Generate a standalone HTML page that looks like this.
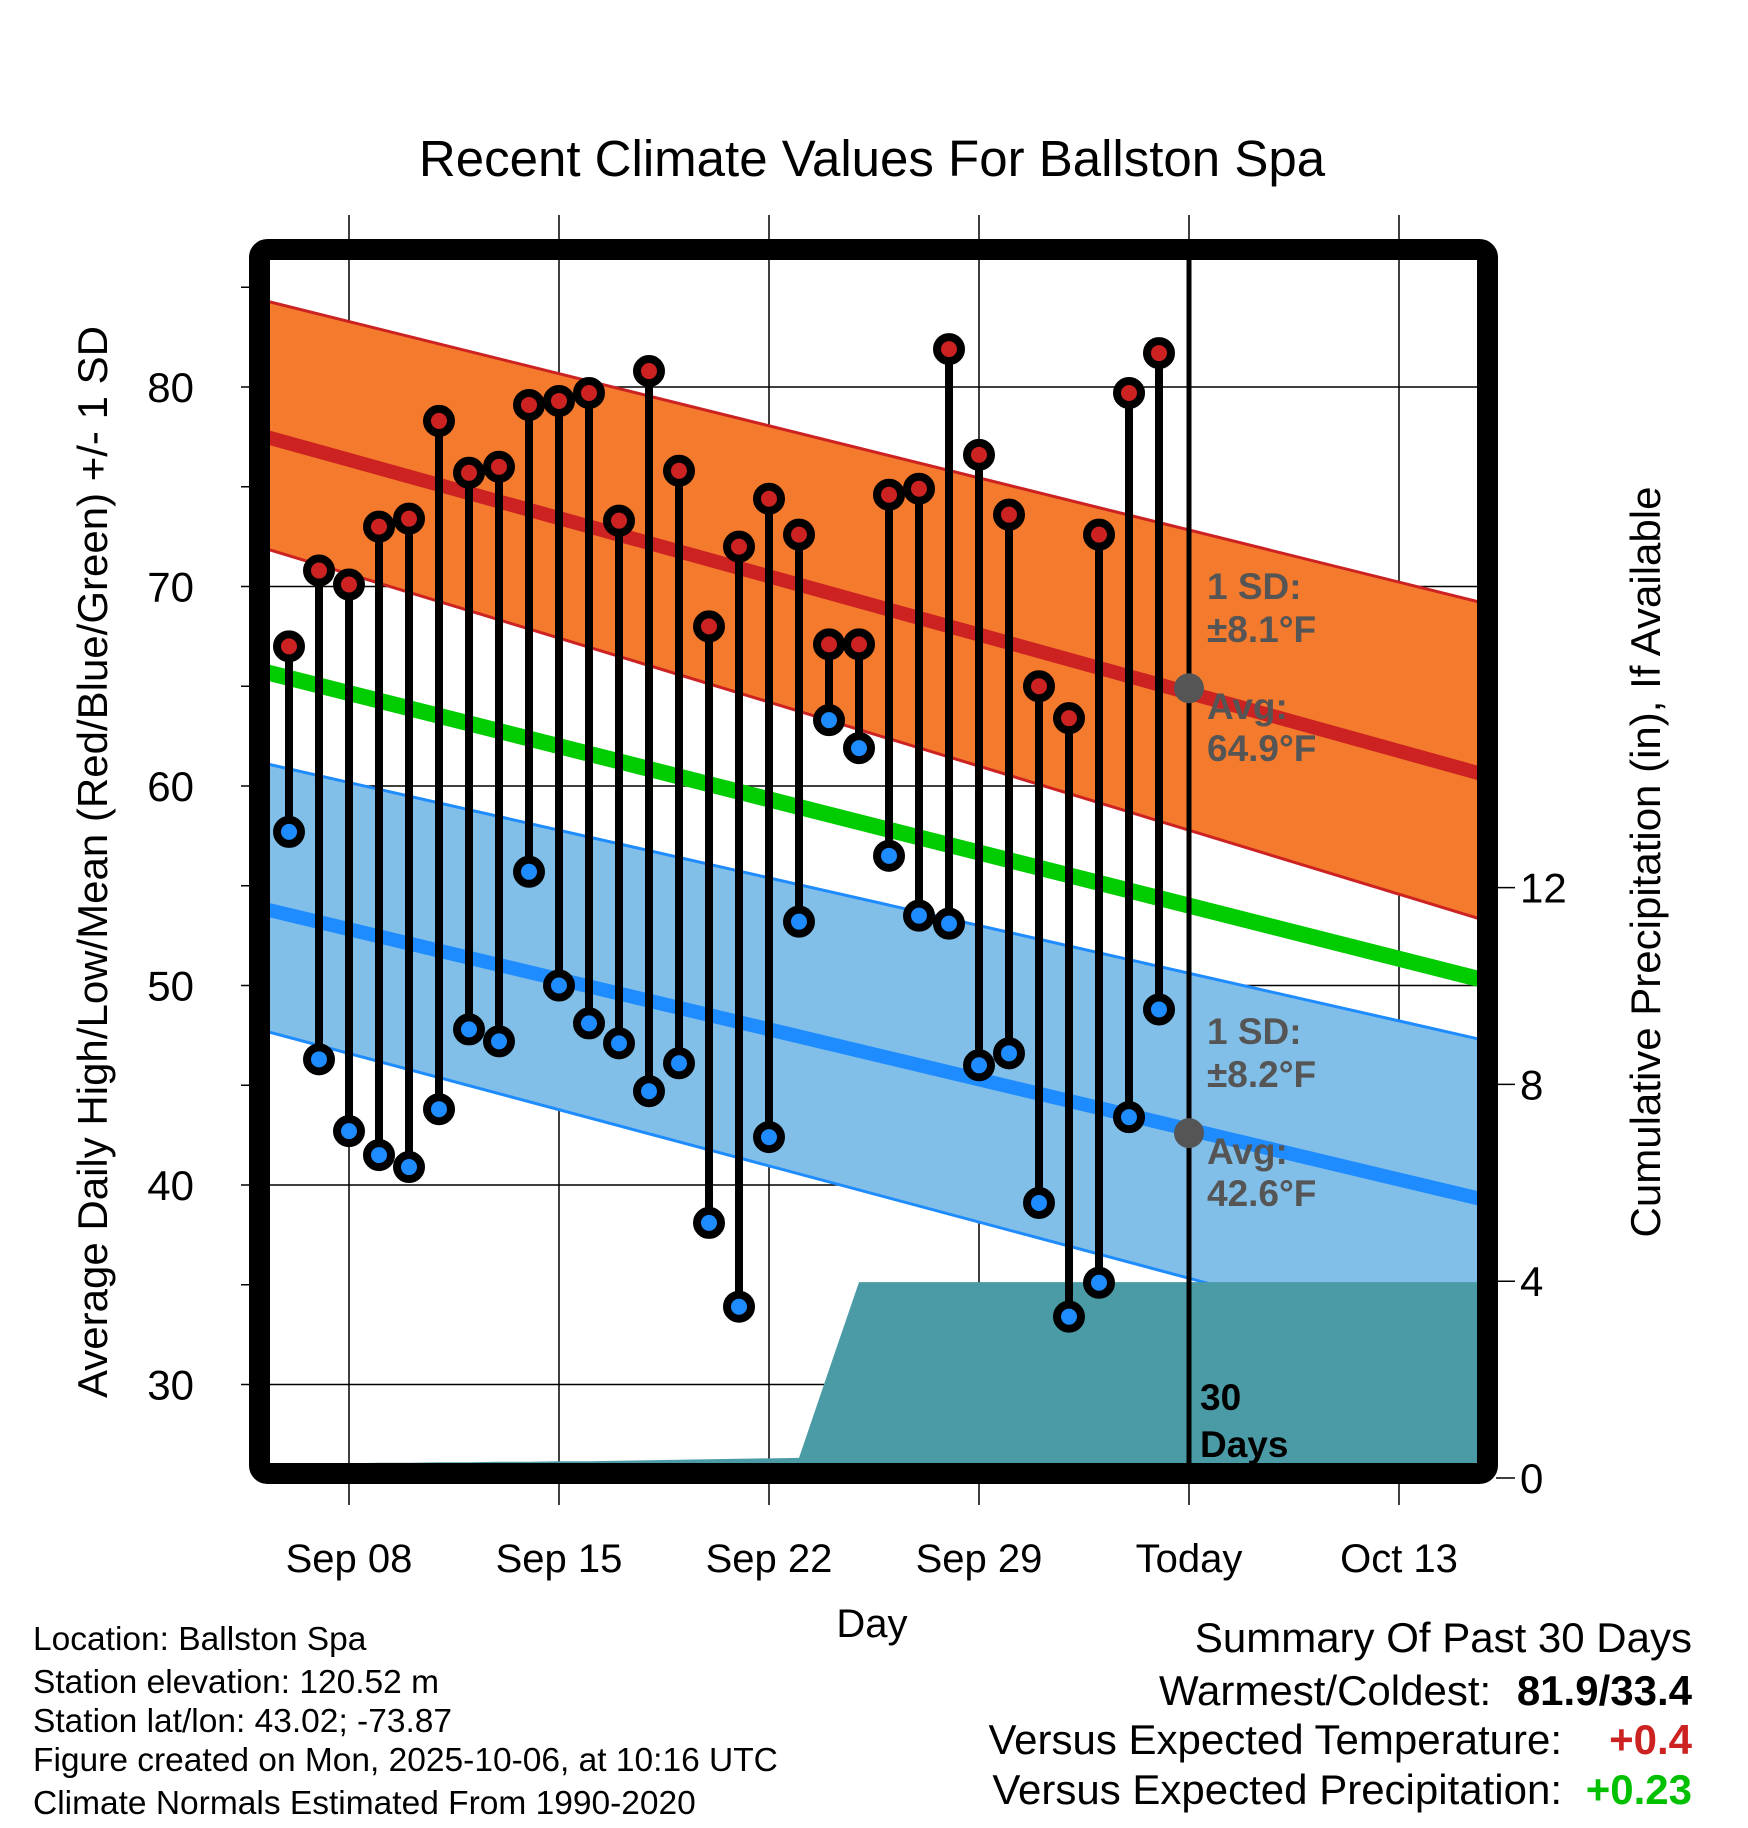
<!DOCTYPE html>
<html><head><meta charset="utf-8"><style>
body{margin:0;background:#fff}
svg{display:block;font-family:"Liberation Sans",sans-serif}
</style></head><body>
<svg id="chart" width="1748" height="1828" viewBox="0 0 1748 1828" xmlns="http://www.w3.org/2000/svg">
<defs><clipPath id="plotclip"><rect x="270" y="260" width="1208" height="1204"/></clipPath></defs>
<text x="872" y="176" font-size="51" text-anchor="middle">Recent Climate Values For Ballston Spa</text>
<g id="grid"></g>
<g id="plot" clip-path="url(#plotclip)"></g>
<g id="marks"></g>
<rect x="259.5" y="249.5" width="1228" height="1224" rx="8" fill="none" stroke="#000" stroke-width="21"/>
<g id="axes"></g>
<text transform="translate(107,862) rotate(-90)" font-size="42" text-anchor="middle">Average Daily High/Low/Mean (Red/Blue/Green) +/- 1 SD</text>
<text transform="translate(1660,862) rotate(-90)" font-size="42" text-anchor="middle">Cumulative Precipitation (in), If Available</text>
<text x="872" y="1637" font-size="40" text-anchor="middle">Day</text>
<g font-size="33.5">
<text x="33" y="1650">Location: Ballston Spa</text>
<text x="33" y="1693">Station elevation: 120.52 m</text>
<text x="33" y="1732">Station lat/lon: 43.02; -73.87</text>
<text x="33" y="1771">Figure created on Mon, 2025-10-06, at 10:16 UTC</text>
<text x="33" y="1814">Climate Normals Estimated From 1990-2020</text>
</g>
<g font-size="42" text-anchor="end">
<text x="1692" y="1652">Summary Of Past 30 Days</text>
<text x="1692" y="1705"><tspan>Warmest/Coldest:  </tspan><tspan font-weight="bold" dx="14">81.9/33.4</tspan></text>
<text x="1562" y="1754">Versus Expected Temperature:</text>
<text x="1692" y="1754" font-weight="bold" fill="#cc2222">+0.4</text>
<text x="1562" y="1804">Versus Expected Precipitation:</text>
<text x="1692" y="1804" font-weight="bold" fill="#00c000">+0.23</text>
</g>
</svg>
<script>
const highs=[67.0,70.8,70.1,73.0,73.4,78.3,75.7,76.0,79.1,79.3,79.7,73.3,80.8,75.8,68.0,72.0,74.4,72.6,67.1,67.1,74.6,74.9,81.9,76.6,73.6,65.0,63.4,72.6,79.7,81.7];
const lows=[57.7,46.3,42.7,41.5,40.9,43.8,47.8,47.2,55.7,50.0,48.1,47.1,44.7,46.1,38.1,33.9,42.4,53.2,63.3,61.9,56.5,53.5,53.1,46.0,46.6,39.1,33.4,35.1,43.4,48.8];
const precip=[0.29,0.30,0.30,0.31,0.31,0.32,0.32,0.33,0.33,0.34,0.34,0.35,0.36,0.37,0.38,0.39,0.40,0.41,2.2,3.98,3.98,3.98,3.98,3.98,3.98,3.98,3.98,3.98,3.98,3.98,3.98,3.98,3.98,3.98,3.98,3.98,3.98,3.98,3.98,3.98,3.98];
const normDays=[-1,40];
const highUpper=[84.4,69.1];
const highMean=[77.6,60.5];
const highLower=[72.0,53.2];
const avgMean=[65.8,50.2];
const lowUpper=[61.2,47.2];
const lowMean=[53.9,39.2];
const lowLower=[47.8,31.3];
const xTickDays=[2,9,16,23,30,37];
const xTickLabels=["Sep 08","Sep 15","Sep 22","Sep 29","Today","Oct 13"];
const yTicks=[30,40,50,60,70,80];
const y2Ticks=[0,4,8,12];
const todayDay=30, todayHigh=64.9, todayLow=42.6;

const NS="http://www.w3.org/2000/svg";
const X=d=>289+30*d;
const Y=v=>387+(80-v)*19.95;
const YP=p=>1478-p*49.2;
function mk(parent,tag,attrs){const e=document.createElementNS(NS,tag);for(const k in attrs)e.setAttribute(k,attrs[k]);parent.appendChild(e);return e;}
const grid=document.getElementById('grid'),plot=document.getElementById('plot'),marks=document.getElementById('marks'),axes=document.getElementById('axes');

function band(up,lo,fill,name){
  let d='M'+normDays.map((t,i)=>X(t)+','+Y(up[i])).join('L')+'L'+normDays.slice().reverse().map((t,i)=>X(t)+','+Y(lo[lo.length-1-i])).join('L')+'Z';
  const p=mk(plot,'path',{d:d,fill:fill});
  
  
}
function line(arr,color,w,name){
  const p=mk(plot,'polyline',{points:normDays.map((t,i)=>X(t)+','+Y(arr[i])).join(' '),fill:'none',stroke:color,'stroke-width':w});
  
  
}
band(highUpper,highLower,'#f47a2d','high-sd-band');
line(highUpper,'#cc2222',3,'high-upper-edge');
line(highLower,'#cc2222',3,'high-lower-edge');
band(lowUpper,lowLower,'#82bfe8','low-sd-band');
line(lowUpper,'#1e8cff',3,'low-upper-edge');
line(lowLower,'#1e8cff',3,'low-lower-edge');
line(highMean,'#cc2222',14,'high-mean-line');
line(lowMean,'#1e8cff',14,'low-mean-line');
line(avgMean,'#00cc00',16,'avg-mean-line');
{let d='M'+X(0)+','+YP(0);precip.forEach((p,i)=>{d+='L'+X(i)+','+YP(p);});d+='L'+X(precip.length-1)+','+YP(0)+'Z';
const pa=mk(plot,'path',{d:d,fill:'#4a9ba5'});

}

xTickDays.forEach((d,i)=>{
  const g=mk(grid,'line',{x1:X(d),x2:X(d),y1:215,y2:1505,stroke:'#000','stroke-width':1.5});
  
  
  const t=mk(axes,'text',{x:X(d),y:1572,'font-size':40,'text-anchor':'middle'});
  t.textContent=xTickLabels[i];
  
  
});
yTicks.forEach(v=>{
  const g=mk(grid,'line',{x1:241,x2:1478,y1:Y(v),y2:Y(v),stroke:'#000','stroke-width':1.5});
  
  
  const t=mk(axes,'text',{x:194,y:Y(v)+15,'font-size':42,'text-anchor':'end'});
  t.textContent=v;
  
  
});
[35,45,55,65,75,85].forEach(v=>{
  const g=mk(axes,'line',{x1:241,x2:252,y1:Y(v),y2:Y(v),stroke:'#000','stroke-width':1.5});
  
  
});
y2Ticks.forEach(p=>{
  const g=mk(axes,'line',{x1:1496,x2:1515,y1:YP(p),y2:YP(p),stroke:'#000','stroke-width':1.5});
  
  
  const t=mk(axes,'text',{x:1520,y:YP(p)+15,'font-size':42});
  t.textContent=p;
  
  
});

{const t=mk(marks,'line',{x1:X(todayDay),x2:X(todayDay),y1:258,y2:1466,stroke:'#000','stroke-width':5});

}

highs.forEach((h,i)=>{
  const l=lows[i],x=X(i);
  const s=mk(marks,'line',{x1:x,x2:x,y1:Y(h),y2:Y(l),stroke:'#000','stroke-width':8});
  
  
  const c1=mk(marks,'circle',{cx:x,cy:Y(h),r:12,fill:'#cc2222',stroke:'#000','stroke-width':8});
  
  
  const c2=mk(marks,'circle',{cx:x,cy:Y(l),r:12,fill:'#1e8cff',stroke:'#000','stroke-width':8});
  
  
});

[[todayHigh,'8.1'],[todayLow,'8.2']].forEach(([v,sd],k)=>{
  const c=mk(marks,'circle',{cx:X(todayDay),cy:Y(v),r:15,fill:'#555'});
  
  
  const g=mk(marks,'g',{fill:'#555','font-weight':'bold','font-size':37});
  
  
  const y=Y(v);
  const lines=['1 SD:','\u00B1'+sd+'\u00B0F','Avg:',v.toFixed(1)+'\u00B0F'];
  const offs=[-89,-46,31,73];
  lines.forEach((s,j)=>{const t=mk(g,'text',{x:1207,y:y+offs[j]});t.textContent=s;});
});
{const g=mk(marks,'g',{'font-weight':'bold','font-size':37});


const a=mk(g,'text',{x:1200,y:1410});a.textContent='30';
const b=mk(g,'text',{x:1200,y:1457});b.textContent='Days';}
</script>
</body></html>
